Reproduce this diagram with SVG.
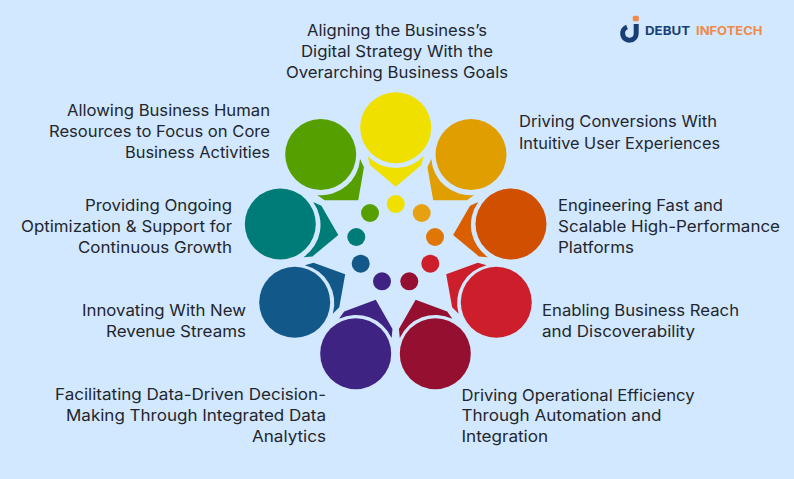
<svg xmlns="http://www.w3.org/2000/svg" width="794" height="479" viewBox="0 0 794 479">
<style>
text{font-family:"Inter","Noto Sans","Liberation Sans",sans-serif;font-size:16px;fill:#22262e}
.logo{font-size:12px;font-weight:700}
</style>
<defs>
<path id="ptr" d="M367.7 156.2A39 39 0 0 0 423.7 156.2L421.4 165L395.7 186.7L370 165Z"/>
</defs>
<rect width="794" height="479" fill="#d2e8fe"/>
<g id="logo">
<path d="M636.2 24V33.5A6.8 6.8 0 1 1 627 27" fill="none" stroke="#173f75" stroke-width="5"/>
<rect x="632.8" y="15.7" width="6" height="5.5" rx="1.5" fill="#ef8a4a"/>
<text class="logo" x="645" y="34.5" textLength="45" lengthAdjust="spacingAndGlyphs" style="fill:#173f75">DEBUT</text>
<text class="logo" x="696" y="34.5" textLength="66.5" lengthAdjust="spacingAndGlyphs" style="fill:#ef8a4a">INFOTECH</text>
</g>
<g id="connectors"></g>
<g id="node-yellow" fill="#efe000">
<circle cx="395.7" cy="127.7" r="35.5"/><use href="#ptr"/><circle cx="395.7" cy="204" r="9"/>
<text x="307" y="35.5" textLength="180" lengthAdjust="spacingAndGlyphs">Aligning the Business’s</text>
<text x="301" y="56.5" textLength="192" lengthAdjust="spacingAndGlyphs">Digital Strategy With the</text>
<text x="286" y="77.5" textLength="222" lengthAdjust="spacingAndGlyphs">Overarching Business Goals</text>
</g>
<g id="node-orange" fill="#e09e00">
<circle cx="471" cy="154.5" r="35.5"/><use href="#ptr" transform="rotate(40 395.7 245)"/><circle cx="421.7" cy="213" r="9" fill="#e6a010"/>
<text x="519" y="126.5" textLength="198" lengthAdjust="spacingAndGlyphs">Driving Conversions With</text>
<text x="519" y="148.5" textLength="201" lengthAdjust="spacingAndGlyphs">Intuitive User Experiences</text>
</g>
<g id="node-darkorange" fill="#d14f00">
<circle cx="511" cy="224" r="35.5"/><use href="#ptr" transform="rotate(80 395.7 245)" fill="#d95f00"/><circle cx="435" cy="237" r="9" fill="#e07605"/>
<text x="558" y="210.5" textLength="165" lengthAdjust="spacingAndGlyphs">Engineering Fast and</text>
<text x="558" y="232" textLength="222" lengthAdjust="spacingAndGlyphs">Scalable High-Performance</text>
<text x="558" y="253" textLength="76" lengthAdjust="spacingAndGlyphs">Platforms</text>
</g>
<g id="node-red" fill="#cc1e2b">
<circle cx="496.3" cy="302.3" r="35.5"/><use href="#ptr" transform="rotate(120 395.7 245)"/><circle cx="430.3" cy="263.7" r="9"/>
<text x="542" y="315.5" textLength="197" lengthAdjust="spacingAndGlyphs">Enabling Business Reach</text>
<text x="542" y="336.5" textLength="153" lengthAdjust="spacingAndGlyphs">and Discoverability</text>
</g>
<g id="node-maroon" fill="#951030">
<circle cx="435.3" cy="353.7" r="35.5"/><use href="#ptr" transform="rotate(160 395.7 245)"/><circle cx="409.3" cy="281.3" r="9"/>
<text x="461.5" y="400.5" textLength="233" lengthAdjust="spacingAndGlyphs">Driving Operational Efficiency</text>
<text x="461.5" y="421" textLength="200" lengthAdjust="spacingAndGlyphs">Through Automation and</text>
<text x="461.5" y="442" textLength="86.5" lengthAdjust="spacingAndGlyphs">Integration</text>
</g>
<g id="node-purple" fill="#3f2382">
<circle cx="355.7" cy="353.7" r="35.5"/><use href="#ptr" transform="rotate(200 395.7 245)"/><circle cx="382" cy="281.3" r="9"/>
<text x="55" y="400" textLength="271" lengthAdjust="spacingAndGlyphs">Facilitating Data-Driven Decision-</text>
<text x="66" y="421" textLength="260" lengthAdjust="spacingAndGlyphs">Making Through Integrated Data</text>
<text x="252" y="442" textLength="74" lengthAdjust="spacingAndGlyphs">Analytics</text>
</g>
<g id="node-blue" fill="#12598a">
<circle cx="294.7" cy="302.3" r="35.5"/><use href="#ptr" transform="rotate(240 395.7 245)"/><circle cx="360.7" cy="263.7" r="9"/>
<text x="82" y="315.5" textLength="164" lengthAdjust="spacingAndGlyphs">Innovating With New</text>
<text x="106" y="336.5" textLength="140" lengthAdjust="spacingAndGlyphs">Revenue Streams</text>
</g>
<g id="node-teal" fill="#007c78">
<circle cx="280.3" cy="224" r="35.5"/><use href="#ptr" transform="rotate(280 395.7 245)"/><circle cx="356.3" cy="237" r="9"/>
<text x="85" y="211" textLength="147" lengthAdjust="spacingAndGlyphs">Providing Ongoing</text>
<text x="21" y="232" textLength="211" lengthAdjust="spacingAndGlyphs">Optimization &amp; Support for</text>
<text x="78" y="253" textLength="154" lengthAdjust="spacingAndGlyphs">Continuous Growth</text>
</g>
<g id="node-green" fill="#55a000">
<circle cx="320.7" cy="154.5" r="35.5"/><use href="#ptr" transform="rotate(320 395.7 245)"/><circle cx="370" cy="213" r="9"/>
<text x="67" y="115.5" textLength="203" lengthAdjust="spacingAndGlyphs">Allowing Business Human</text>
<text x="49" y="136.5" textLength="221" lengthAdjust="spacingAndGlyphs">Resources to Focus on Core</text>
<text x="125" y="157.5" textLength="145" lengthAdjust="spacingAndGlyphs">Business Activities</text>
</g>
</svg>
